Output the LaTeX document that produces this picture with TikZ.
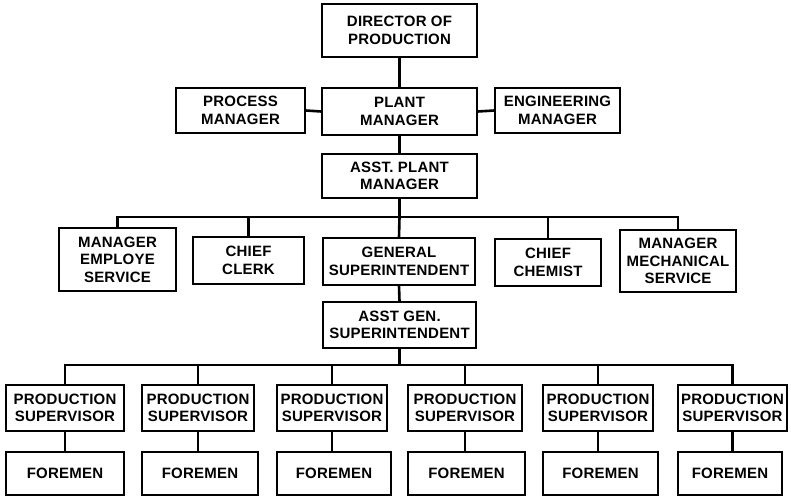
\documentclass[tikz,border=0pt]{standalone}
\usepackage{fontspec}
\newfontfamily\chartfont[LetterSpace=1.5]{Liberation Sans}
\begin{document}
\begin{tikzpicture}[x=1pt,y=-1pt,
  box/.style={draw=black, line width=1.4pt, fill=white, inner sep=0pt,
    align=center, font=\chartfont\bfseries\fontsize{15}{17.5}\selectfont},
  link/.style={draw=black, line width=2.6pt}]
\useasboundingbox (0,0) rectangle (791,497);

% top management
\node[box, minimum width=155pt, minimum height=53pt] (dir)   at (399.5,30.5)  {DIRECTOR OF\\PRODUCTION};
\node[box, minimum width=129pt, minimum height=45pt] (proc)  at (240.5,110.5) {PROCESS\\MANAGER};
\node[box, minimum width=155pt, minimum height=47pt] (plant) at (399.5,111.5) {PLANT\\MANAGER};
\node[box, minimum width=125pt, minimum height=45pt] (eng)   at (557.5,110.5) {ENGINEERING\\MANAGER};
\node[box, minimum width=155pt, minimum height=44pt] (aplant) at (399.5,176)  {ASST. PLANT\\MANAGER};

% staff level
\node[box, minimum width=117pt, minimum height=63pt] (emp)   at (117.5,259.5) {MANAGER\\EMPLOYE\\SERVICE};
\node[box, minimum width=111pt, minimum height=47pt] (clerk) at (248.5,260.5) {CHIEF\\CLERK};
\node[box, minimum width=152pt, minimum height=47pt] (gsup)  at (399,261.5)   {GENERAL\\SUPERINTENDENT};
\node[box, minimum width=106pt, minimum height=47pt] (chem)  at (548,262.5)   {CHIEF\\CHEMIST};
\node[box, minimum width=116pt, minimum height=62pt] (mech)  at (678,261)     {MANAGER\\MECHANICAL\\SERVICE};
\node[box, minimum width=153pt, minimum height=46pt] (agsup) at (399.5,325)   {ASST GEN.\\SUPERINTENDENT};

% production supervisors
\node[box, minimum width=118pt, minimum height=46pt] (ps1) at (65,408)    {PRODUCTION\\SUPERVISOR};
\node[box, minimum width=112pt, minimum height=46pt] (ps2) at (198,408)   {PRODUCTION\\SUPERVISOR};
\node[box, minimum width=110pt, minimum height=46pt] (ps3) at (332,408)   {PRODUCTION\\SUPERVISOR};
\node[box, minimum width=114pt, minimum height=46pt] (ps4) at (465,408)   {PRODUCTION\\SUPERVISOR};
\node[box, minimum width=110pt, minimum height=46pt] (ps5) at (598,408)   {PRODUCTION\\SUPERVISOR};
\node[box, minimum width=109pt, minimum height=46pt] (ps6) at (732.5,408) {PRODUCTION\\SUPERVISOR};

% foremen
\node[box, minimum width=118pt, minimum height=43pt] (f1) at (65,473.5)    {FOREMEN};
\node[box, minimum width=116pt, minimum height=43pt] (f2) at (200,473.5)   {FOREMEN};
\node[box, minimum width=114pt, minimum height=43pt] (f3) at (334,473.5)   {FOREMEN};
\node[box, minimum width=117pt, minimum height=43pt] (f4) at (466.5,473.5) {FOREMEN};
\node[box, minimum width=115pt, minimum height=43pt] (f5) at (600.5,473.5) {FOREMEN};
\node[box, minimum width=104pt, minimum height=43pt] (f6) at (730,473.5)   {FOREMEN};

% bus lines
\coordinate (bus1) at (399.5,217);
\coordinate (bus2) at (399.5,365);

\path[link] (dir.south) -- (plant.north);
\path[link] (proc.east) -- (plant.west);
\path[link] (plant.east) -- (eng.west);
\path[link] (plant.south) -- (aplant.north);
\path[link] (aplant.south) -- (bus1);
\path[link] (emp.north) |- (bus1) -| (mech.north);
\path[link] (clerk.north) -- (clerk.north |- bus1);
\path[link] (chem.north) -- (chem.north |- bus1);
\path[link] (bus1) -- (gsup.north);
\path[link] (gsup.south) -- (agsup.north);
\path[link] (agsup.south) -- (bus2);
\path[link] (ps1.north) |- (bus2) -| (ps6.north);
\foreach \n in {ps2,ps3,ps4,ps5}
  \path[link] (\n.north) -- (\n.north |- bus2);
\foreach \i in {1,...,6}
  \path[link] (ps\i.south) -- (ps\i.south |- f\i.north);
\end{tikzpicture}
\end{document}
